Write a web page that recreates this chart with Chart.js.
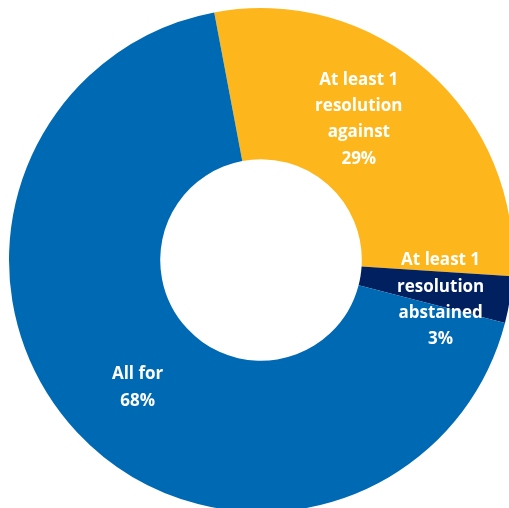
<!DOCTYPE html>
<html>
<head>
<meta charset="utf-8">
<script src="https://cdn.jsdelivr.net/npm/chart.js@4"></script>
<style>
  html, body { margin: 0; padding: 0; background: #fff; overflow: hidden; width: 509px; height: 508px; }
  #wrap { position: absolute; left: 0; top: 0; width: 522px; height: 520px; }
</style>
</head>
<body>
<div id="wrap"><canvas id="chart"></canvas></div>
<script>
// --- Daten ---
const labels = ["At least 1 resolution against", "At least 1 resolution abstained", "All for"];
const labelLines = [
    ["At least 1", "resolution", "against", "29%"],
    ["At least 1", "resolution", "abstained", "3%"],
    ["All for", "68%"],
];
const values = [29, 3, 68];
const colors = ["#FDB71C", "#002060", "#0069B4"];

// label placement: angle from top (deg, clockwise) and distance as fraction of outer radius
const labelPos = [
    { angle: 34.8, r: 0.68 },
    { angle: 102.5, r: 0.73 },
    { angle: 224, r: 0.705 },
];

const labelPlugin = {
    id: "sliceLabels",
    afterDatasetsDraw(chart) {
        const ctx = chart.ctx;
        const meta = chart.getDatasetMeta(0);
        ctx.save();
        ctx.fillStyle = "#fff";
        ctx.font = "bold 17px 'Open Sans'";
        ctx.textAlign = "center";
        ctx.textBaseline = "middle";
        meta.data.forEach((arc, i) => {
            const p = labelPos[i];
            const a = (p.angle - 90) * Math.PI / 180;
            const cx = arc.x + Math.cos(a) * arc.outerRadius * p.r;
            const cy = arc.y + Math.sin(a) * arc.outerRadius * p.r;
            const lines = labelLines[i];
            const lh = 26.3;
            lines.forEach((t, j) => {
                ctx.fillText(t, cx, cy + (j - (lines.length - 1) / 2) * lh);
            });
        });
        ctx.restore();
    },
};

const ctx = document.getElementById("chart").getContext("2d");

const chart = new Chart(ctx, {
    type: "doughnut",
    data: {
        labels: labels,
        datasets: [
            {
                data: values,
                backgroundColor: colors,
                borderWidth: 0,
            },
        ],
    },
    options: {
        responsive: true,
        maintainAspectRatio: false,
        animation: false,
        rotation: -10.7,
        cutout: "40%",
        layout: { padding: 8 },
        plugins: {
            legend: { display: false },
            tooltip: { enabled: false },
        },
    },
    plugins: [labelPlugin],
});
</script>
</body>
</html>
